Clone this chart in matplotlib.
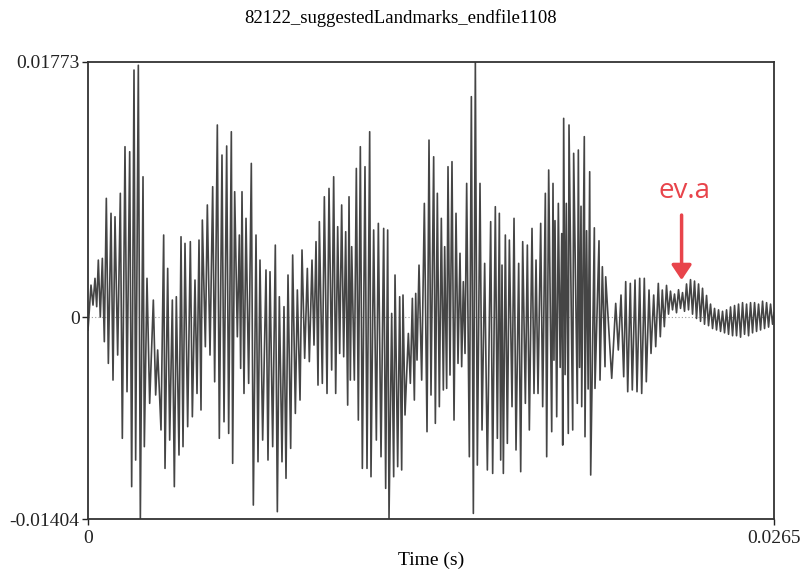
import matplotlib
matplotlib.use("Agg")
import matplotlib.pyplot as plt
import numpy as np

TITLE = "82122_suggestedLandmarks_endfile1108"
X_TICKS = [0.0, 0.0265]
X_TICK_LABELS = ["0", "0.0265"]
Y_TICKS = [-0.01404, 0.0, 0.01773]
Y_TICK_LABELS = ["-0.01404", "0", "0.01773"]
X_LABEL = "Time (s)"

# upper turning points of the waveform (time in ms, amplitude in 1e-3)
peak_t = [0.116, 0.270, 0.399, 0.554, 0.708, 0.889, 1.043, 1.249, 1.429, 1.610, 1.777, 1.944,
          2.125, 2.279, 2.524, 2.691, 2.923, 3.078, 3.258, 3.412, 3.593, 3.747, 3.953, 4.133,
          4.288, 4.417,
          4.610, 4.816, 4.996, 5.176, 5.357, 5.537, 5.666, 5.846, 5.949, 6.104, 6.309, 6.490,
          6.644, 6.876, 7.031, 7.236, 7.391, 7.571, 7.726, 7.906, 8.087, 8.267, 8.473, 8.653,
          8.808, 8.937,
          9.130, 9.310, 9.490, 9.645, 9.799, 9.954, 10.083, 10.186, 10.366, 10.520, 10.700,
          10.881, 11.035, 11.216, 11.422, 11.576, 11.731, 11.860, 12.040, 12.168, 12.375,
          12.530, 12.659, 12.787, 12.993, 13.173, 13.353,
          13.495, 13.649, 13.778, 13.907, 14.061, 14.216, 14.370, 14.499, 14.628, 14.809,
          14.963, 15.143, 15.323, 15.555, 15.735, 15.890, 15.993, 16.122, 16.277, 16.457,
          16.637, 16.792, 16.972, 17.152, 17.307, 17.487, 17.667, 17.796,
          17.963, 18.040, 18.169, 18.300, 18.375, 18.477, 18.581, 18.761, 18.942, 19.045,
          19.172, 19.260, 19.380, 19.560, 19.740, 19.869, 19.998,
          20.385, 20.590, 20.771, 20.949, 21.131, 21.312, 21.490, 21.672, 21.853, 22.031,
          22.185,
          22.348, 22.502, 22.657, 22.812, 22.966, 23.121, 23.275, 23.430, 23.585, 23.739,
          23.894, 24.048, 24.203, 24.357, 24.512, 24.667, 24.821, 24.976, 25.130, 25.285,
          25.440, 25.594, 25.749, 25.903, 26.058, 26.213, 26.367, 26.500]
peak_v = [2.22, 2.69, 3.96, 4.08, 8.25, 7.21, 6.97, 8.60, 11.84, 11.49, 17.17, 17.50,
          9.75, 2.69, 1.18, -2.29, 5.70, 3.38, 1.18, 1.41, 5.58, 5.12, 5.24, 2.57,
          5.35, 6.74,
          7.79, 9.06, 13.35, 11.26, 11.89, 12.88, 8.71, 5.70, 8.71, 6.86, 10.68, 5.70,
          3.96, 3.27, 3.15, 5.00, 1.41, 0.72, 2.92, 4.31, 1.88, 4.66, 3.38, 3.96,
          5.24, 6.63,
          8.36, 8.94, 9.75, 6.28, 7.79, 5.93, 8.36, 4.89, 10.33, 11.84, 10.45,
          12.88, 6.05, 6.51, 6.16, 6.05, 0.25, 2.92, 1.41, 1.53, -1.14,
          1.30, 1.64, 3.61, 7.90, 12.30, 11.14,
          8.60, 6.86, 4.89, 10.45, 10.80, 7.21, 4.43, 2.46, 9.29, 15.32,
          17.73, 9.29, 3.73, 6.63, 7.67, 7.21, 3.61, 5.70, 5.35, 6.86,
          3.73, 5.24, 5.00, 6.16, 3.96, 6.51, 8.60, 10.22,
          9.29, 6.70, 7.90, 5.80, 13.81, 7.90, 13.35, 11.38, 11.61, 7.70,
          12.54, 6.00, 10.10, 6.20, 5.30, 3.50, 2.80,
          0.95, 1.53, 2.46, 2.34, 2.57, 2.69, 2.69, 1.88, 1.53, 2.34,
          1.88,
          2.2, 1.8, 1.6, 1.9, 1.7, 2.3, 2.6, 2.5, 2.3, 2.0,
          1.5, 0.9, 0.6, 0.5, 0.4, 0.5, 0.7, 0.8, 0.9, 1.0,
          0.9, 1.0, 1.0, 0.9, 1.1, 1.0, 0.9, 0.3]

# lower turning points of the waveform (time in ms, amplitude in 1e-3)
trough_t = [0.000, 0.193, 0.336, 0.475, 0.631, 0.786, 0.966, 1.146, 1.326, 1.507, 1.687, 1.841,
            2.022, 2.176, 2.382, 2.614, 2.820, 2.975, 3.155, 3.335, 3.515, 3.670, 3.850,
            4.031, 4.211, 4.365,
            4.533, 4.713, 4.893, 5.073, 5.254, 5.434, 5.588, 5.769, 5.897, 6.026, 6.206,
            6.387, 6.567, 6.747, 6.953, 7.134, 7.314, 7.494, 7.649, 7.829, 8.010, 8.190,
            8.370, 8.550, 8.730, 8.885,
            9.052, 9.233, 9.413, 9.568, 9.722, 9.877, 10.031, 10.134, 10.289, 10.443,
            10.598, 10.778, 10.932, 11.139, 11.319, 11.499, 11.628, 11.808, 11.963, 12.117,
            12.246, 12.452, 12.607, 12.710, 12.890, 13.096, 13.250,
            13.418, 13.572, 13.727, 13.855, 13.984, 14.139, 14.293, 14.435, 14.564, 14.731,
            14.886, 15.040, 15.221, 15.427, 15.632, 15.813, 15.942, 16.045, 16.199, 16.380,
            16.534, 16.715, 16.895, 17.049, 17.229, 17.384, 17.564, 17.719,
            17.913, 18.000, 18.106, 18.240, 18.338, 18.430, 18.554, 18.724, 18.902, 18.990,
            19.072, 19.199, 19.320, 19.419, 19.585, 19.779, 19.972, 20.231,
            20.486, 20.694, 20.849, 21.026, 21.208, 21.389, 21.567, 21.749, 21.930, 22.108,
            22.263,
            22.425, 22.580, 22.734, 22.889, 23.043, 23.198, 23.353, 23.507, 23.662, 23.816,
            23.971, 24.126, 24.280, 24.435, 24.589, 24.744, 24.899, 25.053, 25.208, 25.362,
            25.517, 25.671, 25.826, 25.981, 26.135, 26.290, 26.444]
trough_v = [-0.90, 0.83, 0.72, 0.00, -1.71, -3.22, -4.38, -2.64, -8.43, -5.19, -11.79, -9.94,
            -14.04, -9.01, -6.00, -5.42, -7.85, -10.52, -8.55, -11.79, -9.59, -9.01, -7.62,
            -6.93, -5.31, -6.46,
            -2.06, -2.64, -4.50, -8.43, -7.28, -8.09, -10.17, -1.37, -3.57, -5.31, -4.61,
            -13.07, -10.06, -8.55, -9.94, -9.01, -13.53, -10.06, -11.21, -9.13, -6.70, -5.77,
            -2.87, -3.10, -1.95, -4.73,
            -4.61, -5.31, -3.68, -5.31, -2.53, -2.76, -6.12, -4.38, -4.38, -7.16,
            -10.52, -10.52, -11.10, -8.55, -9.71, -11.91, -14.00, -11.10, -10.40, -10.63,
            -6.81, -4.61, -5.77, -2.99, -4.38, -7.97, -5.42,
            -7.39, -6.23, -5.07, -4.96, -4.03, -7.16, -3.22, -3.45, -2.53, -9.71,
            -13.65, -10.29, -7.85, -10.63, -10.87, -8.43, -9.94, -10.87, -8.78, -6.23,
            -9.24, -10.75, -6.00, -7.85, -5.31, -5.31, -6.23, -9.71,
            -7.97, -3.00, -6.93, -3.50, -8.90, -4.00, -8.09, -7.85, -6.00, -3.50,
            -6.23, -8.32, -5.00, -10.98, -4.96, -4.38, -3.45, -4.26,
            -2.29, -4.15, -5.19, -5.07, -5.19, -5.31, -4.50, -2.53, -2.06, -1.37,
            -0.67,
            0.2, 0.5, 0.3, 0.6, 0.4, 0.5, 0.2, -0.1, -0.3, -0.5,
            -0.6, -0.8, -0.9, -1.0, -1.1, -1.2, -1.3, -1.3, -1.4, -1.2,
            -1.3, -1.1, -1.0, -0.9, -0.8, -0.7, -0.5]

LABEL_TEXT = "ev.a"
LABEL_POS = (23.06e-3, 8.78e-3)
ARROW_FROM = (22.93e-3, 7.09e-3)
ARROW_TO = (22.93e-3, 2.57e-3)
RED = "#e8444b"

t_all = np.array(peak_t + trough_t) * 1e-3
v_all = np.array(peak_v + trough_v) * 1e-3
order = np.argsort(t_all, kind="stable")
t_all = t_all[order]
v_all = v_all[order]

plt.rcParams["font.family"] = ["Liberation Serif", "DejaVu Serif"]

fig = plt.figure(figsize=(8.01, 5.71), dpi=100)
ax = fig.add_axes([88 / 801, 1 - 519 / 571, (774 - 88) / 801, (519 - 62) / 571])

ax.axhline(0, color="#9a9a9a", lw=0.8, ls=(0, (1, 2)), zorder=1)
ax.plot(t_all, v_all, color="#454545", lw=1.2, zorder=2)

ax.set_xlim(X_TICKS[0], X_TICKS[-1])
ax.set_ylim(Y_TICKS[0], Y_TICKS[-1])
ax.set_xticks(X_TICKS)
ax.set_xticklabels(X_TICK_LABELS)
ax.set_yticks(Y_TICKS)
ax.set_yticklabels(Y_TICK_LABELS)
ax.tick_params(direction="out", length=4, width=1.0, labelsize=14, colors="#222222")
ax.tick_params(axis="y", pad=2)
ax.tick_params(axis="x", pad=4)
for s in ax.spines.values():
    s.set_linewidth(1.3)
    s.set_color("#333333")

ax.set_xlabel(X_LABEL, fontsize=14, labelpad=3)
fig.text(0.5, 1 - 18 / 571, TITLE, ha="center", va="center", fontsize=13.5)

ax.text(LABEL_POS[0], LABEL_POS[1], LABEL_TEXT, color=RED, fontsize=20,
        ha="center", va="center", family=["Open Sans", "DejaVu Sans"])
ax.annotate("", xy=ARROW_TO, xytext=ARROW_FROM,
            arrowprops=dict(arrowstyle="-|>,head_length=0.6,head_width=0.4",
                            color=RED, lw=2.5, mutation_scale=15, shrinkA=0, shrinkB=0))

fig.savefig("out.png", dpi=100)
